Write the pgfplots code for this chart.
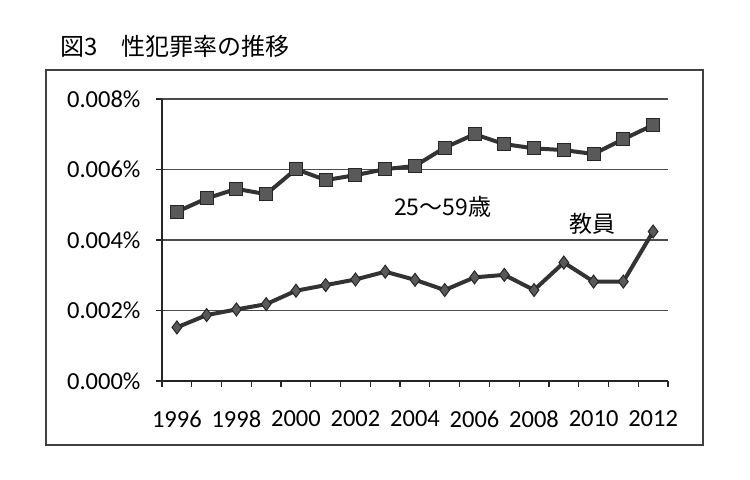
\documentclass[border=0pt]{standalone}
\usepackage{fontspec}
\setmainfont{Carlito}
\newfontfamily\cjk{Noto Sans CJK JP}
\usepackage{pgfplots}
\pgfplotsset{compat=1.18}

\begin{document}
\begin{tikzpicture}[x=1bp,y=1bp]
\useasboundingbox (-162,-99) rectangle (588,381);
% outer frame and title
\draw[black!75, line width=1.3bp] (-116,-64) rectangle (541,311);
\node[anchor=west, inner sep=0, font=\cjk\fontsize{24bp}{28bp}\selectfont] at (-102,335) {図3　性犯罪率の推移};
\begin{axis}[
    at={(0,0)}, anchor=south west,
    scale only axis,
    width=506bp, height=282bp,
    xmin=1995.5, xmax=2012.5,
    ymin=0, ymax=0.008,
    axis lines*=left,
    axis line style={black!85, line width=1.3bp},
    xtick={1995.5,1996.5,...,2012.5},
    xticklabels={},
    extra x ticks={1996,1998,2000,2002,2004,2006,2008,2010,2012},
    extra x tick style={tick style={draw=none}, xticklabel style={yshift=-20bp}},
    extra x tick labels={1996,1998,2000,2002,2004,2006,2008,2010,2012},
    ytick={0,0.002,0.004,0.006,0.008},
    tick align=outside,
    major tick length=6bp,
    tick style={black!85, line width=1.2bp},
    ymajorgrids=true,
    grid style={black!70, line width=1.2bp},
    scaled y ticks=false,
    /pgf/number format/assume math mode=true,
    yticklabel style={xshift=-12bp, /pgf/number format/.cd, fixed, fixed zerofill, precision=3},
    yticklabel={\pgfmathprintnumber{\tick}\%},
    tick label style={font=\fontsize{24.5bp}{28bp}\selectfont},
    clip=false,
]

% 25-59 years
\addplot[line width=4bp, color=black!80,
    mark=square*, mark size=6.5bp,
    mark options={fill=black!65, draw=black!85, line width=1bp}]
    coordinates {
        (1996,0.00480)(1997,0.00518)(1998,0.00545)(1999,0.00530)(2000,0.00601)
        (2001,0.00570)(2002,0.00584)(2003,0.00601)(2004,0.00610)(2005,0.00662)
        (2006,0.00700)(2007,0.00672)(2008,0.00660)(2009,0.00655)(2010,0.00644)
        (2011,0.00686)(2012,0.00726)
    };

% teachers
\addplot[line width=4bp, color=black!80,
    mark=diamond*, mark size=6.5bp,
    mark options={fill=black!65, draw=black!85, line width=1bp}]
    coordinates {
        (1996,0.00152)(1997,0.00187)(1998,0.00203)(1999,0.00218)(2000,0.00256)
        (2001,0.00272)(2002,0.00288)(2003,0.00310)(2004,0.00287)(2005,0.00258)
        (2006,0.00294)(2007,0.00301)(2008,0.00258)(2009,0.00336)(2010,0.00282)
        (2011,0.00282)(2012,0.00424)
    };

\node[font=\cjk\fontsize{23bp}{26bp}\selectfont] at (axis cs:2004.93,0.00494) {25～59歳};
\node[font=\cjk\fontsize{23bp}{26bp}\selectfont] at (axis cs:2009.97,0.00445) {教員};
\end{axis}
\end{tikzpicture}
\end{document}
